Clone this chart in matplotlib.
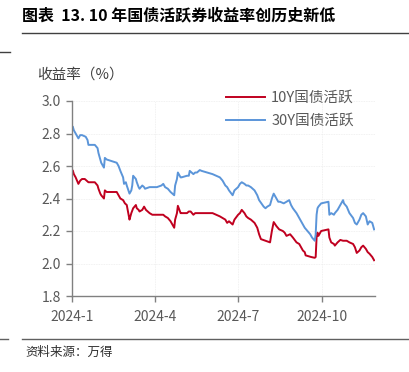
import matplotlib
matplotlib.use("Agg")
import matplotlib.pyplot as plt
import pandas as pd

plt.rcParams['font.family'] = ['Noto Sans CJK SC', 'DejaVu Sans']

title = "图表  13. 10 年国债活跃券收益率创历史新低"
ylabel = "收益率（%）"
source = "资料来源：万得"
series_names = ["10Y国债活跃", "30Y国债活跃"]
xtick_dates = ["2024-01-01", "2024-04-01", "2024-07-01", "2024-10-01"]
xtick_labels = ["2024-1", "2024-4", "2024-7", "2024-10"]
yticks = [1.8, 2.0, 2.2, 2.4, 2.6, 2.8, 3.0]

dates_30y = ["2024-01-02", "2024-01-03", "2024-01-05", "2024-01-08", "2024-01-10", "2024-01-12",
             "2024-01-16", "2024-01-18", "2024-01-19", "2024-01-24", "2024-01-26", "2024-01-29",
             "2024-01-30", "2024-02-01", "2024-02-02", "2024-02-05", "2024-02-06", "2024-02-08",
             "2024-02-19", "2024-02-21", "2024-02-23", "2024-02-26", "2024-02-27", "2024-02-29",
             "2024-03-01", "2024-03-04", "2024-03-06", "2024-03-07", "2024-03-08", "2024-03-11",
             "2024-03-12", "2024-03-14", "2024-03-15", "2024-03-18", "2024-03-20", "2024-03-21",
             "2024-03-26", "2024-04-01", "2024-04-03", "2024-04-08", "2024-04-10", "2024-04-12",
             "2024-04-15", "2024-04-18", "2024-04-22", "2024-04-23", "2024-04-25", "2024-04-26",
             "2024-04-29", "2024-04-30", "2024-05-06", "2024-05-08", "2024-05-09", "2024-05-13",
             "2024-05-15", "2024-05-17", "2024-05-20", "2024-05-22", "2024-05-28", "2024-06-03",
             "2024-06-07", "2024-06-11", "2024-06-14", "2024-06-17", "2024-06-19", "2024-06-21",
             "2024-06-25", "2024-06-27", "2024-07-01", "2024-07-03", "2024-07-05", "2024-07-08",
             "2024-07-10", "2024-07-12", "2024-07-15", "2024-07-19", "2024-07-22", "2024-07-24",
             "2024-07-29", "2024-07-31", "2024-08-02", "2024-08-05", "2024-08-07", "2024-08-09",
             "2024-08-12", "2024-08-14", "2024-08-16", "2024-08-20", "2024-08-23", "2024-08-26",
             "2024-08-28", "2024-08-30", "2024-09-03", "2024-09-06", "2024-09-10", "2024-09-12",
             "2024-09-18", "2024-09-20", "2024-09-23", "2024-09-24", "2024-09-25", "2024-09-26",
             "2024-09-27", "2024-09-30", "2024-10-08", "2024-10-09", "2024-10-11", "2024-10-14",
             "2024-10-15", "2024-10-18", "2024-10-21", "2024-10-23", "2024-10-24", "2024-10-25",
             "2024-10-28", "2024-10-31", "2024-11-04", "2024-11-06", "2024-11-08", "2024-11-11",
             "2024-11-13", "2024-11-15", "2024-11-18", "2024-11-20", "2024-11-22", "2024-11-25",
             "2024-11-27"]
yield_30y = [2.84, 2.82, 2.80, 2.77, 2.79, 2.79,
             2.78, 2.76, 2.73, 2.73, 2.73, 2.71,
             2.68, 2.64, 2.62, 2.59, 2.65, 2.64,
             2.62, 2.60, 2.57, 2.53, 2.49, 2.50,
             2.48, 2.43, 2.45, 2.48, 2.54, 2.52,
             2.50, 2.47, 2.46, 2.48, 2.47, 2.46,
             2.47, 2.47, 2.47, 2.48, 2.49, 2.47,
             2.46, 2.44, 2.42, 2.48, 2.52, 2.56,
             2.53, 2.53, 2.54, 2.54, 2.57, 2.55,
             2.56, 2.56, 2.575, 2.57, 2.56, 2.55,
             2.54, 2.53, 2.51, 2.48, 2.47, 2.45,
             2.42, 2.45, 2.47, 2.49, 2.50, 2.49,
             2.48, 2.48, 2.47, 2.45, 2.42, 2.39,
             2.35, 2.34, 2.35, 2.36, 2.40, 2.43,
             2.40, 2.38, 2.38, 2.37, 2.38, 2.39,
             2.36, 2.34, 2.31, 2.28, 2.24, 2.22,
             2.18, 2.16, 2.14, 2.18, 2.30, 2.34,
             2.35, 2.37, 2.38, 2.30, 2.31, 2.30,
             2.31, 2.33, 2.36, 2.38, 2.39, 2.37,
             2.35, 2.31, 2.28, 2.25, 2.24, 2.27,
             2.30, 2.31, 2.29, 2.24, 2.26, 2.25,
             2.21]

dates_10y = ["2024-01-02", "2024-01-03", "2024-01-05", "2024-01-08", "2024-01-10", "2024-01-12",
             "2024-01-15", "2024-01-17", "2024-01-19", "2024-01-24", "2024-01-26", "2024-01-29",
             "2024-01-30", "2024-02-01", "2024-02-02", "2024-02-05", "2024-02-06", "2024-02-08",
             "2024-02-19", "2024-02-21", "2024-02-23", "2024-02-26", "2024-02-28", "2024-03-01",
             "2024-03-04", "2024-03-05", "2024-03-06", "2024-03-08", "2024-03-11", "2024-03-12",
             "2024-03-14", "2024-03-15", "2024-03-18", "2024-03-20", "2024-03-22", "2024-03-26",
             "2024-03-29", "2024-04-03", "2024-04-08", "2024-04-10", "2024-04-12", "2024-04-15",
             "2024-04-18", "2024-04-22", "2024-04-23", "2024-04-25", "2024-04-26", "2024-04-29",
             "2024-04-30", "2024-05-06", "2024-05-08", "2024-05-10", "2024-05-13", "2024-05-15",
             "2024-05-17", "2024-05-20", "2024-05-24", "2024-05-28", "2024-06-03", "2024-06-07",
             "2024-06-11", "2024-06-14", "2024-06-17", "2024-06-19", "2024-06-21", "2024-06-25",
             "2024-06-27", "2024-07-01", "2024-07-03", "2024-07-05", "2024-07-08", "2024-07-10",
             "2024-07-12", "2024-07-15", "2024-07-19", "2024-07-22", "2024-07-24", "2024-07-26",
             "2024-07-31", "2024-08-05", "2024-08-07", "2024-08-09", "2024-08-12", "2024-08-15",
             "2024-08-19", "2024-08-21", "2024-08-23", "2024-08-27", "2024-08-30", "2024-09-03",
             "2024-09-06", "2024-09-10", "2024-09-12", "2024-09-13", "2024-09-19", "2024-09-23",
             "2024-09-24", "2024-09-25", "2024-09-26", "2024-09-27", "2024-09-30", "2024-10-08",
             "2024-10-09", "2024-10-11", "2024-10-14", "2024-10-15", "2024-10-18", "2024-10-21",
             "2024-10-24", "2024-10-28", "2024-10-31", "2024-11-04", "2024-11-06", "2024-11-08",
             "2024-11-11", "2024-11-13", "2024-11-15", "2024-11-18", "2024-11-20", "2024-11-22",
             "2024-11-25", "2024-11-27"]
yield_10y = [2.57, 2.55, 2.53, 2.49, 2.51, 2.52,
             2.52, 2.51, 2.50, 2.50, 2.50, 2.48,
             2.46, 2.43, 2.42, 2.40, 2.45, 2.44,
             2.44, 2.42, 2.40, 2.39, 2.37, 2.36,
             2.27, 2.29, 2.31, 2.34, 2.36, 2.34,
             2.33, 2.32, 2.33, 2.35, 2.33, 2.31,
             2.30, 2.30, 2.30, 2.30, 2.29, 2.28,
             2.26, 2.22, 2.27, 2.31, 2.355, 2.31,
             2.31, 2.31, 2.32, 2.32, 2.30, 2.31,
             2.31, 2.31, 2.31, 2.31, 2.31, 2.30,
             2.29, 2.28, 2.27, 2.25, 2.26, 2.24,
             2.27, 2.30, 2.31, 2.33, 2.31, 2.29,
             2.28, 2.27, 2.25, 2.22, 2.18, 2.15,
             2.14, 2.13, 2.20, 2.255, 2.23, 2.21,
             2.20, 2.19, 2.17, 2.18, 2.16, 2.13,
             2.12, 2.08, 2.07, 2.05, 2.04, 2.035,
             2.04, 2.16, 2.19, 2.17, 2.20, 2.21,
             2.16, 2.13, 2.12, 2.11, 2.13, 2.145,
             2.14, 2.14, 2.13, 2.12, 2.10, 2.065,
             2.08, 2.10, 2.11, 2.09, 2.07, 2.06,
             2.04, 2.02]

red = '#C0001F'
blue = '#5B95D9'
gray = '#595959'

fig = plt.figure(figsize=(4.09, 3.72), dpi=100)
ax = fig.add_axes([72/409, 1-296/372, (375-72)/409, (296-101)/372])

d10 = pd.to_datetime(dates_10y)
d30 = pd.to_datetime(dates_30y)
ax.plot(d10, yield_10y, color=red, lw=1.4, label=series_names[0])
ax.plot(d30, yield_30y, color=blue, lw=1.4, label=series_names[1])

ax.set_ylim(1.8, 3.0)
ax.set_yticks(yticks)
ax.set_yticklabels([f"{v:.1f}" for v in yticks])
ax.set_xlim(pd.Timestamp("2024-01-01"), pd.Timestamp("2024-11-28"))
ax.set_xticks(pd.to_datetime(xtick_dates))
ax.set_xticklabels(xtick_labels)

for s in ['top', 'right']:
    ax.spines[s].set_visible(False)
for s in ['left', 'bottom']:
    ax.spines[s].set_color('#808080')
    ax.spines[s].set_linewidth(1.0)
ax.tick_params(axis='both', colors='#808080', labelcolor=gray, labelsize=10, length=4, width=1)
ax.tick_params(axis='y', pad=4)
ax.tick_params(axis='x', pad=6)
ax.grid(True, color='#EDEDED', lw=0.6, ls=(0, (1, 1)))
ax.set_axisbelow(True)

leg = ax.legend(loc='upper left', bbox_to_anchor=(0.465, 1.118), frameon=False,
                fontsize=10.5, handlelength=2.7, labelspacing=0.6, handletextpad=0.4)
for t in leg.get_texts():
    t.set_color(gray)

fig.text(37/409, 1-75/372, ylabel, fontsize=10.5, color='#404040', va='center', ha='left')

fig.text(22/409, 1-15/372, title, fontsize=11.5, fontweight='bold', color='black',
         va='center', ha='left')
fig.add_artist(plt.Line2D([22/409, 1.0], [1-33/372, 1-33/372], color='#404040', lw=1.0))
fig.add_artist(plt.Line2D([0, 10/409], [1-52/372, 1-52/372], color='#404040', lw=1.0))
fig.add_artist(plt.Line2D([0, 8/409], [1-339/372, 1-339/372], color='#606060', lw=1.0))
fig.add_artist(plt.Line2D([22/409, 1.0], [1-339/372, 1-339/372], color='#606060', lw=1.0))
fig.text(25/409, 1-352/372, source, fontsize=9, style='italic', color='#303030',
         va='center', ha='left')

fig.savefig("out.png", dpi=100)
